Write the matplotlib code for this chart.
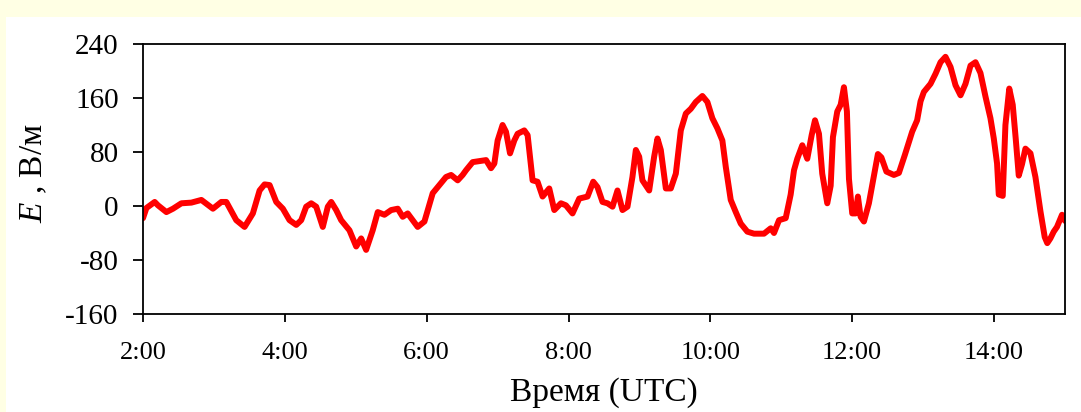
import numpy as np
import matplotlib
matplotlib.use('Agg')
import matplotlib.pyplot as plt
from matplotlib.patches import Rectangle

# time in hours (UTC), field E in V/m
hours = [2.000, 2.048, 2.165, 2.211, 2.330, 2.423, 2.541, 2.682, 2.823, 2.986,
         3.104, 3.175, 3.315, 3.432, 3.549, 3.644, 3.714, 3.785, 3.879, 3.972,
         4.066, 4.161, 4.231, 4.301, 4.372, 4.442, 4.535, 4.606, 4.654, 4.724,
         4.794, 4.911, 5.006, 5.076, 5.146, 5.239, 5.310, 5.404, 5.499, 5.592,
         5.662, 5.732, 5.873, 5.968, 6.085, 6.179, 6.273, 6.344, 6.437, 6.507,
         6.555, 6.648, 6.837, 6.907, 6.954, 7.000, 7.070, 7.118, 7.175, 7.235,
         7.282, 7.376, 7.423, 7.493, 7.563, 7.634, 7.728, 7.799, 7.893, 7.963,
         8.056, 8.151, 8.268, 8.348, 8.408, 8.479, 8.549, 8.620, 8.690, 8.761,
         8.831, 8.901, 8.949, 8.996, 9.042, 9.137, 9.207, 9.254, 9.301, 9.372,
         9.442, 9.513, 9.583, 9.654, 9.724, 9.794, 9.887, 9.958, 10.028, 10.099,
         10.169, 10.217, 10.287, 10.358, 10.428, 10.521, 10.615, 10.756, 10.851, 10.897,
         10.968, 11.062, 11.132, 11.179, 11.225, 11.296, 11.366, 11.428, 11.475, 11.531,
         11.577, 11.648, 11.696, 11.728, 11.789, 11.837, 11.883, 11.925, 11.954, 12.000,
         12.048, 12.080, 12.118, 12.165, 12.235, 12.306, 12.362, 12.411, 12.482, 12.587,
         12.658, 12.743, 12.845, 12.915, 12.963, 13.010, 13.104, 13.175, 13.245, 13.315,
         13.386, 13.456, 13.527, 13.597, 13.668, 13.738, 13.808, 13.879, 13.949, 13.996,
         14.042, 14.066, 14.122, 14.160, 14.214, 14.263, 14.305, 14.348, 14.394, 14.442,
         14.513, 14.583, 14.654, 14.714, 14.750, 14.794, 14.841, 14.887, 14.958, 15.000]
field = [-18, -3, 6, 1, -9, -4, 4, 5, 9, -4,
         6, 6, -21, -31, -11, 23, 32, 31, 6, -4,
         -21, -28, -21, -1, 4, -1, -31, -1, 6, -6,
         -21, -36, -60, -48, -65, -36, -9, -13, -6, -4,
         -16, -11, -31, -23, 19, 31, 43, 46, 38, 46,
         53, 65, 68, 56, 63, 97, 120, 110, 78, 97,
         107, 112, 105, 38, 36, 14, 26, -6, 4, 1,
         -11, 11, 14, 36, 28, 6, 4, -1, 23, -6,
         -1, 43, 83, 73, 38, 23, 73, 100, 83, 26,
         26, 48, 112, 137, 144, 154, 163, 154, 130, 115,
         97, 58, 9, -9, -26, -38, -41, -41, -33, -40,
         -21, -18, 17, 53, 70, 90, 70, 105, 127, 107,
         48, 4, 30, 102, 140, 150, 176, 140, 40, -11,
         -11, 14, -16, -23, 4, 45, 77, 72, 51, 46,
         49, 76, 110, 127, 155, 169, 181, 196, 213, 221,
         206, 179, 164, 181, 208, 213, 197, 162, 130, 100,
         63, 17, 15, 120, 174, 150, 100, 45, 62, 85,
         78, 43, -8, -46, -55, -48, -38, -31, -13, -22]

xticks = [2, 4, 6, 8, 10, 12, 14]
xlabels = ['2:00', '4:00', '6:00', '8:00', '10:00', '12:00', '14:00']
yticks = [-160, -80, 0, 80, 160, 240]
ylabels = ['-160', '-80', '0', '80', '160', '240']

plt.rcParams['font.family'] = ['Liberation Serif', 'DejaVu Serif']
plt.rcParams['mathtext.fontset'] = 'custom'
plt.rcParams['mathtext.it'] = 'Liberation Serif:italic'
plt.rcParams['mathtext.rm'] = 'Liberation Serif'

W, H = 1081, 412
fig = plt.figure(figsize=(W/100, H/100), dpi=100)
fig.patch.set_facecolor('#ffffe4')
panel = Rectangle((6/W, 0), 1, 1 - 17/H, transform=fig.transFigure,
                  facecolor='white', edgecolor='none', zorder=-10)
fig.add_artist(panel)

ax = fig.add_axes([143/W, 1 - 314/H, (1065-143)/W, (314-44)/H])
ax.plot(hours, field, color='#ff0000', lw=4.3, solid_joinstyle='round',
        solid_capstyle='round')
ax.set_xlim(2, 15)
ax.set_ylim(-160, 240)
ax.set_xticks(xticks)
ax.set_xticklabels(xlabels, fontsize=19)
ax.set_yticks(yticks)
ax.set_yticklabels(ylabels, fontsize=21)
ax.tick_params(axis='y', direction='out', length=7.5, width=1.3, pad=10)
ax.tick_params(axis='x', direction='out', length=6, width=1.3, pad=14)
for s in ax.spines.values():
    s.set_linewidth(1.3)
ax.set_xlabel('Время (UTC)', fontsize=24, va='top')
ax.xaxis.set_label_coords(0.5, -0.235)
ax.set_ylabel('$E$ , В/м', fontsize=24)
ax.yaxis.set_label_coords(-0.102, 0.52)

fig.savefig('out.png', dpi=100, facecolor=fig.get_facecolor())
